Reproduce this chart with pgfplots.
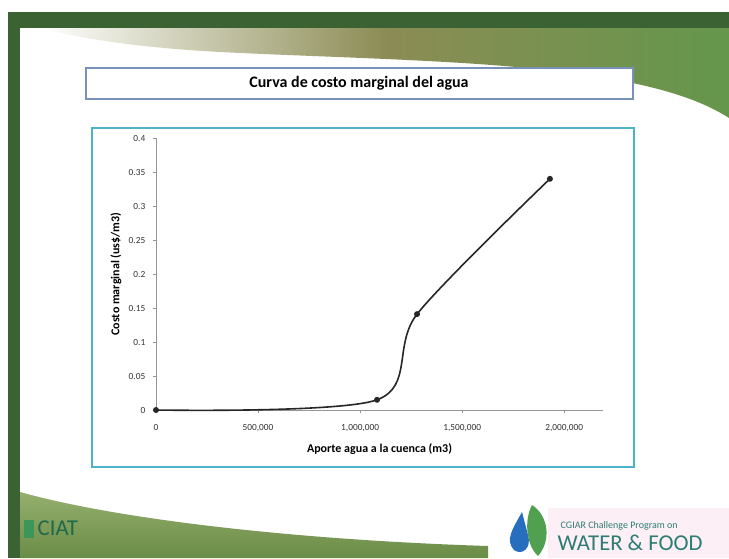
\documentclass[border=0pt]{standalone}
\usepackage{pgfplots}
\pgfplotsset{compat=1.18}
\usepackage{fontspec}
\setmainfont{Carlito}
\definecolor{frame}{RGB}{59,98,51}
\definecolor{chartborder}{RGB}{75,180,200}
\definecolor{titleborder}{RGB}{120,145,185}
\definecolor{curve}{RGB}{38,38,38}
\definecolor{axisgray}{RGB}{150,150,150}
\definecolor{ciat}{RGB}{30,105,75}
\definecolor{ciaticon}{RGB}{60,150,90}
\definecolor{wf}{RGB}{45,125,115}
\definecolor{wfbg}{RGB}{252,240,246}
\definecolor{drop}{RGB}{40,110,190}
\definecolor{leaf}{RGB}{80,160,80}
\definecolor{swoosh}{RGB}{100,150,75}
\definecolor{swooshmid}{RGB}{140,140,85}
\definecolor{phototop}{RGB}{150,175,110}
\definecolor{photobot}{RGB}{105,140,70}
\begin{document}
\begin{tikzpicture}
\begin{scope}[x=0.75pt,y=-0.75pt]
  \useasboundingbox (0,0) rectangle (729,558);
  \fill[white] (0,0) rectangle (729,558);
  % dark green frame
  \fill[frame] (8,12) rectangle (729,558);
  \fill[white] (20,28) rectangle (729,558);
  % top swoosh
  \shade[left color=white, right color=swoosh, middle color=swooshmid]
    (40,28) -- (729,28) -- (729,118) .. controls (640,60) and (420,62) .. (220,52) .. controls (130,47) and (80,38) .. (40,28) -- cycle;
  % bottom photo
  \shade[top color=phototop, bottom color=photobot]
    (20,492) .. controls (120,520) and (300,540) .. (488,546) -- (488,558) -- (20,558) -- cycle;
  % title box
  \draw[titleborder, line width=1pt, fill=white] (86,68) rectangle (633,99);
  \node[font=\bfseries\fontsize{12}{14}\selectfont] at (359,83) {Curva de costo marginal del agua};
  % chart box
  \draw[chartborder, line width=1.2pt, fill=white] (92,128) rectangle (634,467);
  % CIAT logo
  \fill[ciaticon] (24,520) rectangle (34,538);
  \node[font=\fontsize{17}{18}\selectfont, text=ciat, anchor=west] at (33,528) {CIAT};
  % Water & Food logo
  \fill[wfbg] (548,508) rectangle (729,558);
  \fill[drop] (522,512) .. controls (512,530) and (505,540) .. (514,550) .. controls (522,556) and (532,548) .. (528,535) -- cycle;
  \fill[leaf] (532,505) .. controls (548,515) and (552,540) .. (538,556) .. controls (526,545) and (524,520) .. (532,505) -- cycle;
  \node[font=\fontsize{7.5}{8}\selectfont, text=wf, anchor=west] at (556,526) {CGIAR Challenge Program on};
  \node[font=\fontsize{17}{18}\selectfont, text=wf, anchor=west] at (553,543) {WATER \& FOOD};
\end{scope}
\begin{axis}[
  at={(117pt,-307.5pt)}, anchor=south west,
  scale only axis, width=335.25pt, height=204pt,
  xmin=0, xmax=2190000, ymin=0, ymax=0.4,
  axis x line*=bottom, axis y line*=left,
  axis line style={axisgray, line width=0.6pt, -},
  tick style={axisgray, line width=0.5pt},
  tick align=outside, major tick length=2.5pt,
  xtick={0,500000,1000000,1500000,2000000},
  ytick={0,0.05,0.1,0.15,0.2,0.25,0.3,0.35,0.4},
  scaled x ticks=false, scaled y ticks=false,
  xticklabel style={/pgf/number format/fixed, /pgf/number format/1000 sep={,}, yshift=-5pt},
  yticklabel style={/pgf/number format/fixed, /pgf/number format/precision=2, xshift=-2pt},
  /pgf/number format/assume math mode=true,
  tick label style={font=\fontsize{7}{8}\selectfont, text=black!80},
  label style={font=\bfseries\fontsize{9}{10}\selectfont},
  xlabel={Aporte agua a la cuenca (m3)},
  ylabel={Costo marginal (us\$/m3)},
  xlabel style={at={(axis description cs:0.5,-0.142)}, anchor=center},
  ylabel style={at={(axis description cs:-0.0895,0.5)}, anchor=center},
  clip=false,
]
\addplot[smooth, tension=0.5, line width=1.2pt, color=curve, mark=*, mark size=1.6pt, mark options={fill=curve}]
  coordinates {(0,0) (1083000,0.015) (1279000,0.141) (1930000,0.34)};
\end{axis}
\end{tikzpicture}
\end{document}
